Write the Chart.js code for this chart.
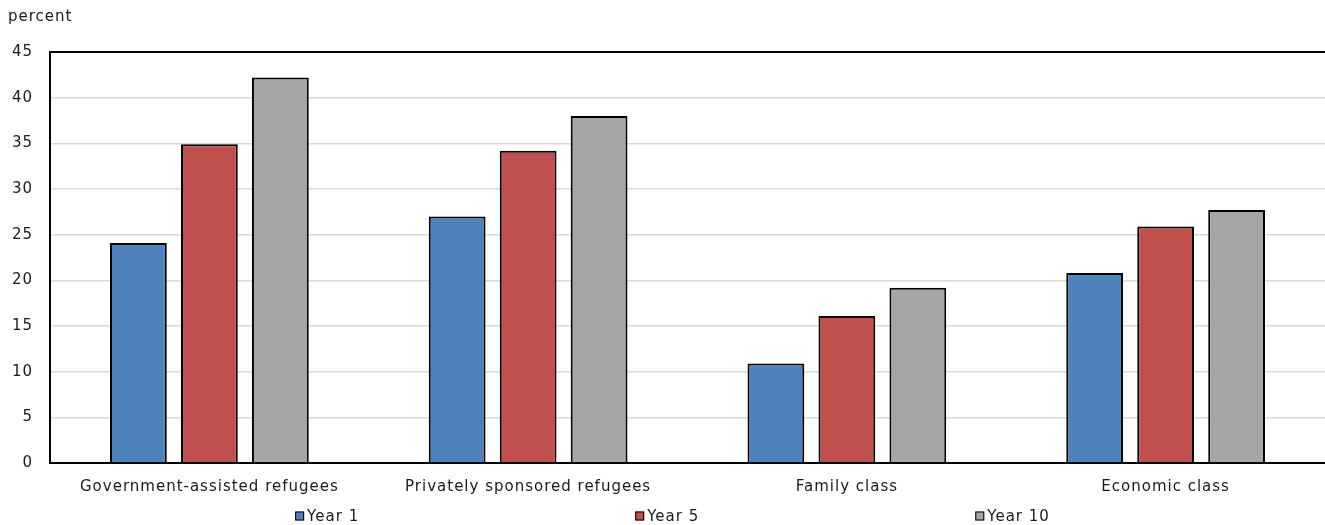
<!DOCTYPE html>
<html>
<head>
<meta charset="utf-8">
<script src="https://cdn.jsdelivr.net/npm/chart.js@4/dist/chart.umd.min.js"></script>
<style>
  html, body { margin: 0; padding: 0; background: #ffffff; }
  #wrap { position: relative; width: 1325px; height: 525px; }
</style>
</head>
<body>
<div id="wrap"><canvas id="c" width="1325" height="525"></canvas></div>
<script>
// Immigrant admission categories
const categories = [
  'Government-assisted refugees',
  'Privately sponsored refugees',
  'Family class',
  'Economic class'
];
// Series values (percent)
const year1 = [24.1, 27.0, 10.9, 20.8];
const year5 = [34.9, 34.2, 16.1, 25.9];
const year10 = [42.2, 38.0, 19.2, 27.7];
const seriesNames = ['Year 1', 'Year 5', 'Year 10'];
const seriesColors = ['#4f81bd', '#c0504d', '#a5a5a5'];
// Value axis
const yMin = 0, yMax = 45, yStep = 5;
const yUnit = 'percent';

const FONT = '"DejaVu Sans", Verdana, sans-serif';
const FONT_SIZE = 15;
const SPACING = '1px';
const TEXT = '#1a1a1a';

// Open letter spacing for all chart text
const textSpacing = {
  id: 'textSpacing',
  beforeDraw(chart) { chart.ctx.letterSpacing = SPACING; }
};

// Legend drawn below the category labels, items spaced widely
const wideLegend = {
  id: 'wideLegend',
  afterDraw(chart) {
    const ctx = chart.ctx;
    const gap = 276, box = 9, boxGap = 3;
    ctx.save();
    ctx.letterSpacing = SPACING;
    ctx.font = FONT_SIZE + 'px ' + FONT;
    ctx.textBaseline = 'middle';
    const items = chart.data.datasets.map(ds => ({
      label: ds.label, color: ds.backgroundColor,
      w: box + boxGap + ctx.measureText(ds.label).width
    }));
    const total = items.reduce((s, it) => s + it.w, 0) + gap * (items.length - 1);
    let x = chart.width / 2 - total / 2 + 10;
    const y = 516;
    items.forEach(it => {
      ctx.fillStyle = it.color;
      ctx.fillRect(x, y - box / 2, box, box);
      ctx.strokeStyle = '#000';
      ctx.lineWidth = 1;
      ctx.strokeRect(x + 0.5, y - box / 2 + 0.5, box - 1, box - 1);
      ctx.fillStyle = TEXT;
      ctx.textAlign = 'left';
      ctx.fillText(it.label, x + box + boxGap, y + 1);
      x += it.w + gap;
    });
    ctx.restore();
  }
};

// Unit caption above the value axis
const unitLabel = {
  id: 'unitLabel',
  afterDraw(chart) {
    const ctx = chart.ctx;
    ctx.save();
    ctx.letterSpacing = SPACING;
    ctx.font = FONT_SIZE + 'px ' + FONT;
    ctx.fillStyle = TEXT;
    ctx.textAlign = 'left';
    ctx.textBaseline = 'middle';
    ctx.fillText(yUnit, 8, 17);
    ctx.restore();
  }
};

new Chart(document.getElementById('c'), {
  type: 'bar',
  data: {
    labels: categories,
    datasets: [year1, year5, year10].map((vals, i) => ({
      label: seriesNames[i],
      data: vals,
      backgroundColor: seriesColors[i],
      borderColor: '#000000',
      borderWidth: 2,
      categoryPercentage: 0.668,
      barPercentage: 0.8
    }))
  },
  options: {
    responsive: false,
    animation: false,
    devicePixelRatio: 1,
    layout: { padding: { top: 52, right: 0, bottom: 12, left: 0 } },
    plugins: {
      legend: { display: false },
      tooltip: { enabled: false }
    },
    scales: {
      x: {
        grid: { display: false, drawTicks: false },
        border: { display: true, color: '#000000', width: 2 },
        ticks: {
          color: TEXT, padding: 15, maxRotation: 0, autoSkip: false,
          font: { family: FONT, size: FONT_SIZE }
        },
        afterFit(scale) { scale.height = 50; }
      },
      y: {
        min: yMin, max: yMax,
        grid: {
          drawTicks: false,
          color: ctx => (ctx.tick && ctx.tick.value === yMax) ? '#000000' : '#d9d9d9',
          lineWidth: ctx => (ctx.tick && ctx.tick.value === yMax) ? 2 : 1.5
        },
        border: { display: true, color: '#000000', width: 2 },
        ticks: {
          stepSize: yStep, color: TEXT, padding: 17,
          font: { family: FONT, size: FONT_SIZE }
        },
        afterFit(scale) { scale.width = 50; }
      }
    }
  },
  plugins: [textSpacing, wideLegend, unitLabel]
});
</script>
</body>
</html>
